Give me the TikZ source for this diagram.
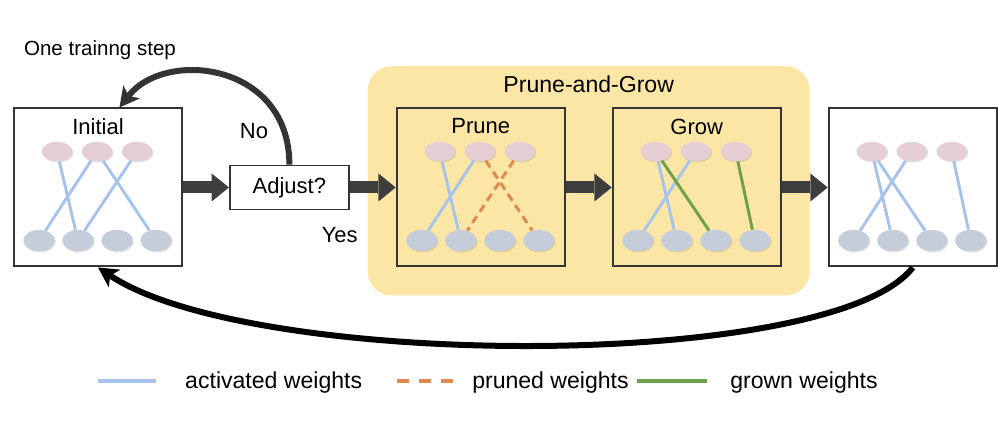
\documentclass[tikz,border=0pt]{standalone}
\usepackage{fontspec}
\setmainfont{Liberation Sans}
\usepackage{tikz}
\usetikzlibrary{shapes,arrows.meta,positioning,calc,backgrounds,shadows}
\definecolor{PGYellow}{RGB}{252,230,166}
\definecolor{PGFrame}{RGB}{51,51,51}
\definecolor{PGFlow}{RGB}{62,62,62}
\definecolor{PGInUnit}{RGB}{229,207,212}
\definecolor{PGOutUnit}{RGB}{197,205,219}
\definecolor{PGActive}{RGB}{167,195,234}
\definecolor{PGPruned}{RGB}{222,138,78}
\definecolor{PGGrown}{RGB}{110,160,72}

\begin{document}
\begin{tikzpicture}[node distance=34.5pt, auto, font=\fontsize{16.5}{19}\selectfont]
  \tikzstyle{panel} = [rectangle, draw=PGFrame, line width=1.5pt, minimum width=126pt, minimum height=118.5pt, inner sep=0pt]
  \tikzstyle{decision} = [rectangle, draw=PGFrame, fill=white, line width=1.3pt, minimum width=89.25pt, minimum height=33pt, inner sep=0pt]
  \tikzstyle{inunit} = [ellipse, fill=PGInUnit, minimum width=23pt, minimum height=14.5pt, inner sep=0pt, drop shadow={shadow xshift=0.9pt, shadow yshift=-0.9pt, opacity=0.25}]
  \tikzstyle{outunit} = [ellipse, fill=PGOutUnit, minimum width=23.5pt, minimum height=16pt, inner sep=0pt, drop shadow={shadow xshift=0.9pt, shadow yshift=-0.9pt, opacity=0.25}]
  \tikzstyle{active} = [draw=PGActive, line width=2.2pt]
  \tikzstyle{pruned} = [draw=PGPruned, line width=2.2pt, dash pattern=on 6pt off 4pt]
  \tikzstyle{grown} = [draw=PGGrown, line width=2.2pt]
  \tikzstyle{flow} = [draw=PGFlow, line width=9pt, -{Triangle[length=13pt, width=21pt, line width=0pt]}]
  \tikzstyle{feedback} = [line width=4.5pt, -{Stealth[length=15pt, width=16pt, inset=4pt, line width=0pt]}]
  \tikzstyle{legendtext} = [font=\fontsize{17.3}{20}\selectfont]

  \useasboundingbox (0,0) rectangle (748.5pt,-319.5pt);

  % the five stages
  \node [panel] (init) at (73.5pt,-140.6pt) {};
  \node [decision, right=of init] (adjust) {Adjust?};
  \node [panel, right=of adjust] (prune) {};
  \node [panel, right=of prune] (grow) {};
  \node [panel, right=of grow] (final) {};

  \node (init-title) at ($(init.north)+(0,-14.25pt)$) {Initial};
  \node (prune-title) at ($(prune.north)+(0,-14.25pt)$) {Prune};
  \node (grow-title) at ($(grow.north)+(0,-14.25pt)$) {Grow};
  \node [legendtext] (pg-title) at ($(prune.north)!0.5!(grow.north)+(0,17.25pt)$) {Prune-and-Grow};

  \begin{scope}[on background layer]
    \fill [PGYellow, rounded corners=18pt] ($(prune.north west)+(-21pt,31pt)$) rectangle ($(grow.south east)+(21pt,-21pt)$);
  \end{scope}

  % input and output units of each small network
  \foreach \p in {init,prune,grow,final} {
    \foreach \i/\dx in {1/33pt,2/63pt,3/93pt}
      \node [inunit] (\p-t\i) at ($(\p.north west)+(\dx,-33pt)$) {};
    \foreach \i/\dx in {1/19.5pt,2/48.75pt,3/78pt,4/107.25pt}
      \node [outunit] (\p-b\i) at ($(\p.north west)+(\dx,-99.75pt)$) {};
  }

  \draw [active] (init-t1) -- (init-b2);
  \draw [active] (init-t2) -- (init-b1);
  \draw [active] (init-t2) -- (init-b4);
  \draw [active] (init-t3) -- (init-b2);

  \draw [active] (prune-t1) -- (prune-b2);
  \draw [active] (prune-t2) -- (prune-b1);
  \draw [pruned] (prune-t2) -- (prune-b4);
  \draw [pruned] (prune-t3) -- (prune-b2);

  \draw [active] (grow-t1) -- (grow-b2);
  \draw [active] (grow-t2) -- (grow-b1);
  \draw [grown] (grow-t1) -- (grow-b3);
  \draw [grown] (grow-t3) -- (grow-b4);

  \draw [active] (final-t1) -- (final-b2);
  \draw [active] (final-t1) -- (final-b3);
  \draw [active] (final-t2) -- (final-b1);
  \draw [active] (final-t3) -- (final-b4);

  % flow between stages
  \draw [flow] (init) -- (adjust);
  \draw [flow] (adjust) -- (prune);
  \draw [flow] (prune) -- (grow);
  \draw [flow] (grow) -- (final);

  \node (yes) at ($(adjust.south east)+(-7.5pt,-18.75pt)$) {Yes};
  \node (no) at ($(adjust.north west)+(18.75pt,25.5pt)$) {No};
  \node [font=\fontsize{15.4}{18}\selectfont] (step) at ($(init.north)+(1.5pt,42.75pt)$) {One trainng step};

  \draw [feedback, draw=PGFrame] (adjust.north) .. controls +(0,76.5pt) and +(34.5pt,44pt) .. (init.75);
  \draw [feedback, draw=black] (final.south) .. controls +(-60pt,-78pt) and +(116pt,-77pt) .. (init.south);

  % legend
  \coordinate (lg-a1) at (73.5pt,-285.75pt);
  \coordinate (lg-a2) at (117pt,-285.75pt);
  \coordinate (lg-p1) at (297.75pt,-285.75pt);
  \coordinate (lg-p2) at (339.75pt,-285.75pt);
  \coordinate (lg-g1) at (477.75pt,-285.75pt);
  \coordinate (lg-g2) at (530.25pt,-285.75pt);
  \draw [active, line width=3pt] (lg-a1) -- (lg-a2);
  \draw [pruned, line width=3pt, dash pattern=on 9pt off 7.5pt] (lg-p1) -- (lg-p2);
  \draw [grown, line width=3pt] (lg-g1) -- (lg-g2);
  \node [legendtext, right=18.4pt of lg-a2, yshift=-1pt] (lg-atext) {activated weights};
  \node [legendtext, right=10.9pt of lg-p2, yshift=-1pt] (lg-ptext) {pruned weights};
  \node [legendtext, right=13.9pt of lg-g2, yshift=-1pt] (lg-gtext) {grown weights};
\end{tikzpicture}
\end{document}
